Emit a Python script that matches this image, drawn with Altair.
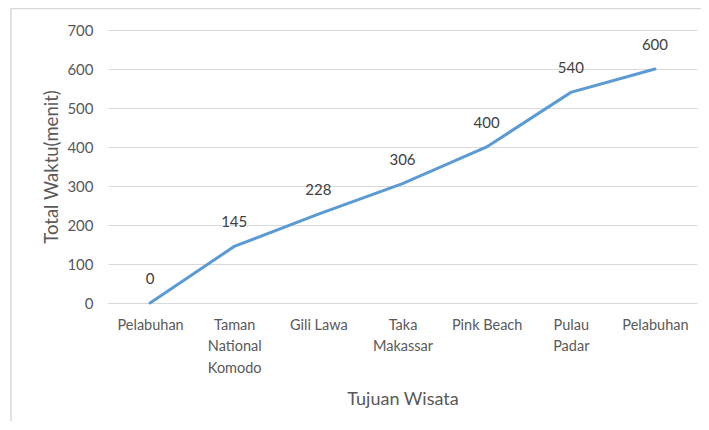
import altair as alt
import pandas as pd

categories = ["Pelabuhan", "Taman|National|Komodo", "Gili Lawa", "Taka|Makassar",
              "Pink Beach", "Pulau|Padar", "Pelabuhan"]
values = [0, 145, 228, 306, 400, 540, 600]
y_ticks = [0, 100, 200, 300, 400, 500, 600, 700]

df = pd.DataFrame({"idx": list(range(len(categories))), "label": categories, "value": values})

label_arr = "[" + ",".join("'" + c + "'" for c in categories) + "]"
label_expr = f"split({label_arr}[datum.value], '|')"

FONT = "Lato"
GREY = "#595959"

x_enc = alt.X("idx:O", title="Tujuan Wisata",
              axis=alt.Axis(labelExpr=label_expr, labelAngle=0, labelFont=FONT, labelFontSize=14.5,
                            labelColor=GREY, labelPadding=15, labelLineHeight=21.5, ticks=False,
                            domainColor="#D9D9D9", domainWidth=1, titleFont=FONT, titleFontSize=18,
                            titleFontWeight="normal", titleColor=GREY, titlePadding=16,
                            labelBaseline="top"))
y_enc = alt.Y("value:Q", title="Total Waktu(menit)",
              scale=alt.Scale(domain=[0, 700], nice=False),
              axis=alt.Axis(values=y_ticks, labelOverlap=False, labelFlush=False,
                            labelFont=FONT, labelFontSize=15, labelColor=GREY,
                            labelPadding=15, ticks=False, domain=False, gridColor="#D9D9D9",
                            gridWidth=1, titleFont=FONT, titleFontSize=18.5, titleFontWeight="normal",
                            titleColor=GREY, titlePadding=5))

base = alt.Chart(df)

line = base.mark_line(color="#5B9BD5", strokeWidth=3, strokeCap="round").encode(x=x_enc, y=y_enc)
labels = base.mark_text(dy=-24, font=FONT, fontSize=15, color="#404040", baseline="middle").encode(
    x=x_enc, y=y_enc, text="value:Q")

border = alt.Chart(pd.DataFrame({"a": [0]})).mark_rect(
    fill=None, stroke="#D9D9D9", strokeWidth=1.5, clip=False
).encode(x=alt.value(-97), x2=alt.value(700), y=alt.value(-21.5), y2=alt.value(500))

chart = alt.layer(border, line, labels).properties(
    width=589, height=273,
    autosize=alt.AutoSizeParams(type="none"),
    padding={"left": 100, "top": 22, "right": 4, "bottom": 118},
).configure_view(stroke=None)

chart.save("out.html", embed_options={"renderer": "svg", "actions": False})
